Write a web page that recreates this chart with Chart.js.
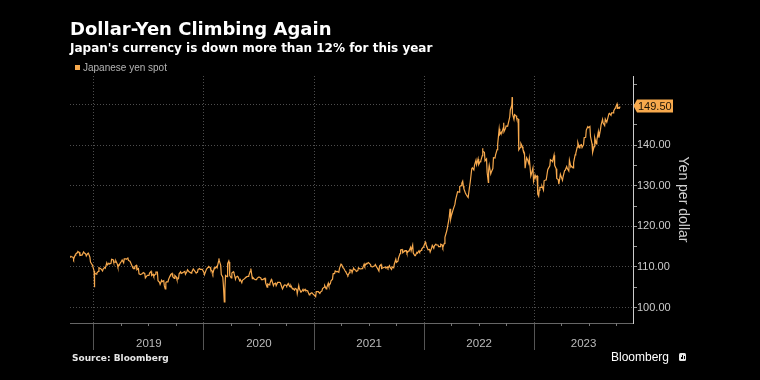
<!DOCTYPE html>
<html>
<head>
<meta charset="utf-8">
<title>Dollar-Yen Climbing Again</title>
<script src="https://cdn.jsdelivr.net/npm/chart.js@4.4.0/dist/chart.umd.min.js"></script>
<style>
    html, body { margin: 0; padding: 0; background: #000; }
    #wrap { position: relative; width: 760px; height: 380px; overflow: hidden; background: #000; }
    #chart { position: absolute; left: 0; top: 0; }
    .txt { position: absolute; white-space: nowrap; }
    .title { left: 70px; top: 20px; font: bold 18px/18px "DejaVu Sans"; color: #fff; }
    .subtitle { left: 70px; top: 41.5px; font: bold 12px/12px "DejaVu Sans"; color: #fff; }
    .legend { left: 83px; top: 63px; font: 10px/10px "Liberation Sans"; color: #b5b5b5; }
    .legend-box { position: absolute; left: 75px; top: 65px; width: 5px; height: 5px; background: #f7a94d; }
    .source { left: 72px; top: 353.5px; font: bold 9px/9px "DejaVu Sans"; color: #e6e6e6; }
    .brand { left: 611px; top: 350.5px; font: 12px/12px "Liberation Sans"; color: #fff; }
    .brand-icon { position: absolute; left: 679px; top: 353px; width: 7px; height: 8px; background: #e6e6e6; border-radius: 1.5px; }
    .brand-icon i { position: absolute; bottom: 2px; width: 1px; background: #000; }
</style>
</head>
<body>
<div id="wrap">
    <canvas id="chart" width="760" height="380"></canvas>
    <div class="txt title">Dollar-Yen Climbing Again</div>
    <div class="txt subtitle">Japan's currency is down more than 12% for this year</div>
    <div class="legend-box"></div>
    <div class="txt legend">Japanese yen spot</div>
    <div class="txt source">Source: Bloomberg</div>
    <div class="txt brand">Bloomberg</div>
    <div class="brand-icon"><i style="left:1.5px;height:2px"></i><i style="left:3px;height:4px"></i><i style="left:4.5px;height:3px"></i></div>
</div>
<script>
// USD/JPY, yen per dollar.
// Friday closes per year, plus the Wednesday value two days before each Friday.
const firstFridays = ['2018-10-12', '2019-01-04', '2020-01-03', '2021-01-01', '2022-01-07', '2023-01-06'];

const yen2018 = [112.2, 112.5, 111.9, 113.2, 113.8, 112.8, 112.9, 113.5, 112.7, 113.4, 111.2, 110.3];
const mid2018 = [112.7, 112.6, 112.4, 112.9, 113.5, 113.6, 112.9, 113.7, 113.2, 113.3, 112.4, 110.6];

const yen2019 = [108.5, 108.5, 109.8, 109.5, 109.5, 109.7, 110.5, 110.7,
    111.9, 111.2, 111.5, 110.0, 110.9, 111.7, 112.0, 111.9, 111.6,
    111.1, 109.9, 110.1, 109.3, 108.3, 108.2, 108.6, 107.3, 107.9,
    108.5, 107.9, 107.7, 108.7, 106.6, 105.7, 106.4, 105.4, 106.3,
    106.9, 108.1, 107.6, 107.9, 106.9, 108.3, 108.4, 108.7,
    108.2, 109.3, 108.8, 108.7, 109.5, 108.6, 109.4, 109.4, 109.4];
const mid2019 = [109.0, 108.2, 108.9, 109.6, 109.0, 109.9, 111.0, 110.9,
    110.9, 111.8, 111.2, 110.7, 110.5, 111.4, 111.0, 112.0, 112.2,
    111.4, 110.2, 109.6, 110.4, 109.6, 108.1, 108.4, 108.4, 107.8,
    107.9, 108.9, 108.2, 108.2, 108.7, 106.2, 106.7, 106.6, 106.1,
    106.3, 107.8, 108.4, 107.2, 107.5, 107.1, 108.8, 108.6,
    108.9, 108.9, 108.8, 108.5, 109.5, 108.8, 108.7, 109.6, 109.4];

const yen2020 = [108.1, 109.5, 110.1, 109.3, 108.4, 109.7, 109.8, 111.6, 108.1,
    105.4, 107.9, 110.8, 107.9, 108.5, 108.5, 107.5, 107.5,
    106.9, 106.7, 107.1, 107.6, 107.8, 109.6, 107.4, 106.9, 107.2,
    107.5, 106.9, 107.0, 106.1, 105.8, 105.9, 106.6, 105.8, 105.4,
    106.2, 106.1, 104.6, 105.6, 105.3, 105.6, 105.4, 104.7, 104.7,
    103.4, 104.6, 103.9, 104.1, 104.2, 104.0, 103.3, 103.6];
const mid2020 = [108.7, 109.1, 109.9, 109.9, 109.0, 109.8, 110.1, 111.4, 110.4,
    107.5, 104.6, 107.6, 111.2, 107.3, 108.8, 107.0, 107.7,
    106.6, 106.1, 107.0, 107.5, 107.7, 108.9, 107.1, 107.0, 106.9,
    107.5, 107.3, 106.9, 107.2, 105.0, 105.6, 106.9, 105.4, 106.0,
    106.2, 106.2, 105.0, 105.4, 105.5, 105.9, 105.1, 104.6, 104.3,
    104.5, 105.4, 103.8, 104.5, 104.5, 104.2, 103.1, 103.6];

const yen2021 = [103.1, 103.9, 103.9, 103.8, 104.7, 105.4, 104.9, 105.4, 106.6,
    108.3, 109.0, 108.9, 109.6, 110.6, 109.7, 108.8, 107.9, 109.3,
    108.6, 109.4, 108.9, 109.8, 109.5, 109.7, 110.2, 110.8,
    111.1, 110.1, 110.1, 110.6, 109.7, 110.2, 109.6, 109.8, 109.8,
    109.7, 109.9, 110.0, 110.7, 111.1, 112.2, 114.2, 113.5, 114.0,
    113.4, 113.9, 114.0, 113.4, 112.8, 113.4, 113.7, 114.4, 115.1];
const mid2021 = [103.2, 102.7, 103.9, 103.5, 104.1, 105.0, 104.6, 106.0, 105.9,
    107.0, 108.4, 108.8, 108.7, 110.7, 109.8, 109.0, 108.1, 108.6,
    109.2, 109.7, 109.2, 109.1, 109.5, 109.6, 110.7, 110.9,
    111.1, 110.6, 110.0, 110.3, 109.9, 109.0, 110.6, 109.8, 110.0,
    110.0, 110.3, 109.4, 109.8, 111.9, 111.4, 113.3, 114.3, 113.8,
    114.0, 113.9, 114.8, 115.4, 112.8, 113.6, 114.0, 114.1, 114.9];

const yen2022 = [115.6, 114.2, 113.7, 115.3, 115.2, 115.4, 115.0, 115.6,
    114.8, 117.3, 119.2, 122.1, 122.5, 124.3, 126.4, 128.5, 129.8,
    130.6, 129.2, 127.9, 127.1, 130.9, 134.4, 135.0, 135.2,
    135.2, 136.1, 138.5, 136.1, 133.3, 135.0, 133.4, 136.9, 137.6,
    140.2, 142.6, 143.1, 143.3, 144.7, 145.3, 148.7, 147.7, 147.5,
    146.6, 138.8, 140.4, 138.9, 134.3, 136.6, 136.7, 132.9, 131.1];
const mid2022 = [116.1, 114.6, 114.3, 114.7, 114.6, 115.6, 115.4, 115.0,
    115.4, 115.8, 118.6, 121.2, 121.8, 123.8, 125.4, 127.9, 128.4,
    130.0, 130.0, 128.2, 127.3, 129.9, 134.2, 133.9, 136.3,
    136.6, 135.9, 137.4, 138.2, 136.6, 133.8, 132.9, 134.2, 136.8,
    138.9, 144.0, 143.2, 144.3, 144.1, 144.6, 146.9, 149.9, 146.3,
    147.2, 146.4, 139.4, 139.6, 138.0, 136.9, 135.5, 132.4, 134.4];

const yen2023 = [132.1, 127.9, 129.6, 129.9, 131.2, 131.4, 134.2, 136.4,
    135.9, 135.0, 131.8, 130.4, 132.8, 132.2, 133.8, 134.2, 136.3,
    134.8, 135.7, 137.9, 140.6, 139.9, 139.4, 141.8, 143.7, 144.3,
    142.1, 138.2, 141.8, 141.2, 141.8, 144.9, 145.4, 146.4,
    146.2, 147.8, 147.9, 148.4, 149.4, 149.3, 149.5];
const mid2023 = [132.6, 132.4, 128.9, 129.6, 128.9, 131.4, 133.9, 134.9,
    136.1, 137.5, 134.2, 131.5, 132.8, 131.3, 133.7, 134.7, 133.6,
    134.6, 134.4, 137.6, 139.5, 139.3, 140.1, 140.1, 141.9, 144.5,
    144.6, 140.3, 139.6, 140.3, 143.3, 143.8, 146.3, 144.8,
    145.6, 147.7, 147.3, 147.9, 149.1, 148.9, 149.1];

// Intraday extremes that stick out of the line
const spikeDates = ['2019-01-03', '2019-08-26', '2020-02-20', '2020-03-09', '2020-03-24',
    '2022-03-28', '2022-05-09', '2022-07-14', '2022-08-02', '2022-09-22', '2022-10-20',
    '2023-01-16', '2023-10-03'];
const spikeValues = [105.0, 104.6, 112.1, 101.4, 111.5,
    124.3, 131.1, 139.2, 130.8, 145.5, 151.8,
    127.4, 150.1];

// Axis range and ticks
const xStart = '2018-10-14';
const xEnd = '2023-11-25';
const yMin = 96.2;
const yMax = 157;
const yTickValues = [100, 105, 110, 115, 120, 125, 130, 135, 140, 145, 150, 155];
const yearLabels = ['2019', '2020', '2021', '2022', '2023'];
const lastLabel = '149.50';

const orange = '#f7a94d';
const DAY = 86400000;

function toMs(dateStr) {
    return Date.parse(dateStr + 'T00:00:00Z');
}

// Combine weekly closes, midweek values and spikes into one sorted list
function buildPoints() {
    let points = [];
    let closes = [yen2018, yen2019, yen2020, yen2021, yen2022, yen2023];
    let mids = [mid2018, mid2019, mid2020, mid2021, mid2022, mid2023];
    closes.forEach(function(values, k) {
        let start = toMs(firstFridays[k]);
        values.forEach(function(v, i) {
            let friday = start + i * 7 * DAY;
            points.push({ x: friday - 2 * DAY, y: mids[k][i] });
            points.push({ x: friday, y: v });
        });
    });
    spikeDates.forEach(function(d, i) {
        points.push({ x: toMs(d), y: spikeValues[i] });
    });
    points.sort(function(a, b) { return a.x - b.x; });
    return points;
}

const yearStarts = yearLabels.map(function(y) { return toMs(y + '-01-01'); });

// Extra drawing: quarter ticks, year labels and the last-value tag
const yenExtras = {
    id: 'yenExtras',
    afterDraw(chart) {
        const ctx = chart.ctx;
        const xs = chart.scales.x;
        const ys = chart.scales.y;
        const area = chart.chartArea;
        ctx.save();

        // small quarterly ticks under the x axis
        ctx.strokeStyle = '#777';
        ctx.lineWidth = 1;
        yearLabels.forEach(function(y) {
            ['-04-01', '-07-01', '-10-01'].forEach(function(md) {
                const px = Math.round(xs.getPixelForValue(toMs(y + md))) + 0.5;
                if (px > area.left && px < area.right) {
                    ctx.beginPath();
                    ctx.moveTo(px, area.bottom);
                    ctx.lineTo(px, area.bottom + 3);
                    ctx.stroke();
                }
            });
        });

        // year labels centered on the visible part of each year
        ctx.fillStyle = '#bbb';
        ctx.font = '11.5px "Liberation Sans"';
        ctx.textAlign = 'center';
        ctx.textBaseline = 'middle';
        yearLabels.forEach(function(y) {
            const a = Math.max(xs.getPixelForValue(toMs(y + '-01-01')), area.left);
            const b = Math.min(xs.getPixelForValue(toMs((+y + 1) + '-01-01')), area.right);
            ctx.fillText(y, (a + b) / 2, area.bottom + 21);
        });

        // last value tag on the right axis
        const data = chart.data.datasets[0].data;
        const py = Math.round(ys.getPixelForValue(data[data.length - 1].y));
        const x0 = area.right;
        ctx.fillStyle = orange;
        ctx.beginPath();
        ctx.moveTo(x0 + 0.5, py);
        ctx.lineTo(x0 + 4, py - 6.5);
        ctx.lineTo(x0 + 40, py - 6.5);
        ctx.lineTo(x0 + 40, py + 6.5);
        ctx.lineTo(x0 + 4, py + 6.5);
        ctx.closePath();
        ctx.fill();
        ctx.fillStyle = '#1a1206';
        ctx.font = '11px "Liberation Sans"';
        ctx.textAlign = 'left';
        ctx.fillText(lastLabel, x0 + 5, py + 0.5);
        ctx.restore();
    }
};

Chart.defaults.font.family = '"Liberation Sans", Arial, sans-serif';
Chart.defaults.color = '#ccc';

const chart = new Chart(document.getElementById('chart'), {
    type: 'line',
    data: {
        datasets: [{
            label: 'Japanese yen spot',
            data: buildPoints(),
            borderColor: orange,
            borderWidth: 1.2,
            pointRadius: 0,
            tension: 0,
            fill: false
        }]
    },
    options: {
        responsive: false,
        devicePixelRatio: 1,
        animation: false,
        layout: { padding: { left: 70, top: 76, right: 69, bottom: 30 } },
        plugins: {
            legend: { display: false },
            tooltip: { enabled: false }
        },
        scales: {
            x: {
                type: 'linear',
                min: toMs(xStart),
                max: toMs(xEnd),
                afterBuildTicks: function(scale) {
                    scale.ticks = yearStarts.map(function(v) { return { value: v }; });
                },
                afterFit: function(scale) { scale.height = 27; },
                ticks: { display: false },
                grid: {
                    color: '#4d4d4d',
                    lineWidth: 1,
                    tickLength: 27,
                    tickColor: '#555',
                    tickBorderDash: []
                },
                border: { color: '#666', width: 1, dash: [1, 2] }
            },
            y: {
                position: 'right',
                min: yMin,
                max: yMax,
                afterBuildTicks: function(scale) {
                    scale.ticks = yTickValues.map(function(v) { return { value: v }; });
                },
                afterFit: function(scale) { scale.width = 58; },
                ticks: {
                    padding: 0,
                    color: '#ccc',
                    font: { size: 11 },
                    callback: function(v) {
                        return (v % 10 === 0 && v < 150) ? v.toFixed(2) : '';
                    }
                },
                grid: {
                    color: function(c) {
                        return (c.tick && c.tick.value % 10 === 0) ? '#4d4d4d' : 'rgba(0,0,0,0)';
                    },
                    lineWidth: 1,
                    tickLength: 4,
                    tickColor: '#999',
                    tickBorderDash: []
                },
                border: { color: '#ccc', width: 1, dash: [1, 2] },
                title: {
                    display: true,
                    text: 'Yen per dollar',
                    color: '#d0d0d0',
                    font: { size: 14 },
                    padding: 0
                }
            }
        }
    },
    plugins: [yenExtras]
});
</script>
</body>
</html>
